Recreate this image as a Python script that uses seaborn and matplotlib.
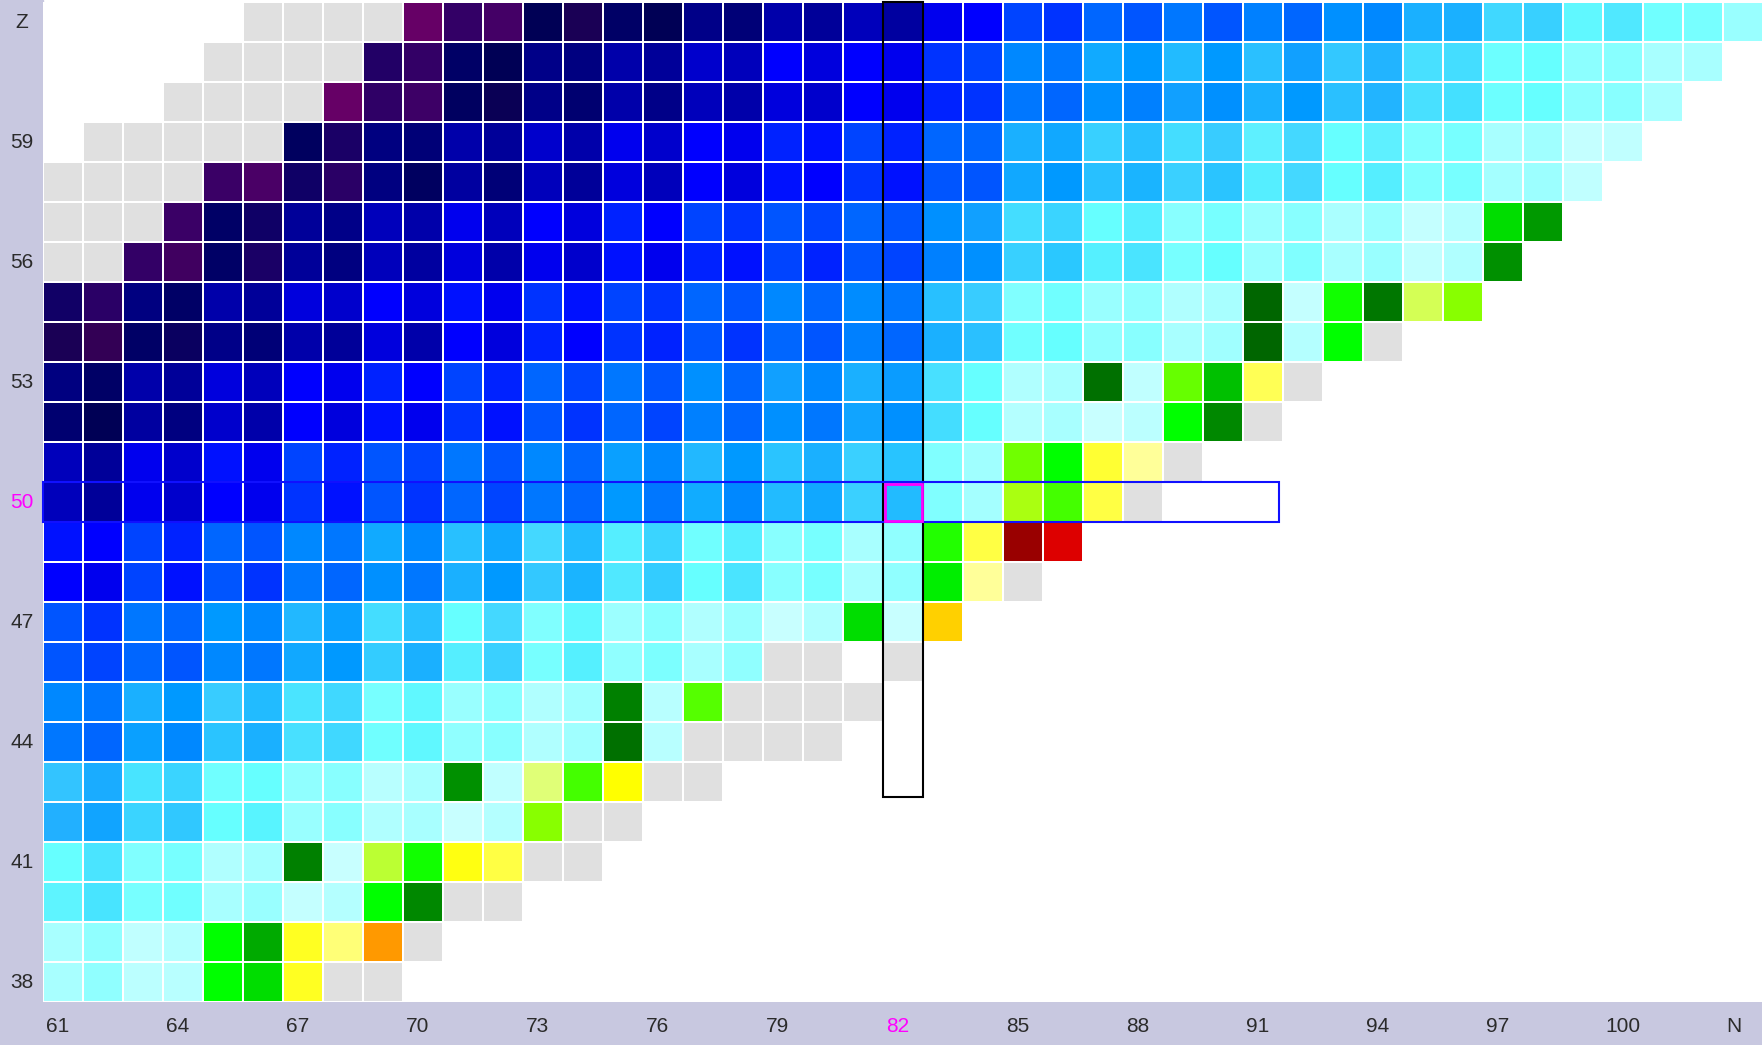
import numpy as np
import pandas as pd
import matplotlib
matplotlib.use("Agg")
import matplotlib.pyplot as plt
import seaborn as sns
from matplotlib.colors import ListedColormap
from matplotlib.patches import Rectangle

n_values = list(range(61, 104))      # columns, N = 61 .. 103
z_values = list(range(62, 37, -1))   # rows, Z = 62 (top) .. 38 (bottom)

# colour of every cell, one string per row (Z = 62 first)
# '.' = no nuclide, 'g' = grey (not measured)
cell_rows = [
    ". . . . . g g g g 660066 330066 440066 000055 1a0055 000066 000055 000088 000077 0000aa 000099 0000bb 0000a0 0000ee 0000ff 0044ff 0033ff 0066ff 0055ff 0077ff 0055ff 0080ff 0066ff 0090ff 0088ff 1ab0ff 1ab0ff 40d8ff 38d0ff 60f8ff 50e8ff 70ffff 77ffff 99ffff",
    ". . . . g g g g 220066 330066 000066 000055 000088 000080 0000aa 000099 0000cc 0000bb 0000ff 0000dd 0000ff 0000ee 0033ff 0044ff 0088ff 0077ff 11aaff 0099ff 22bbff 0099ff 2ac0ff 11a0ff 33c8ff 22b4ff 48e0ff 44ddff 6cffff 66ffff 8cffff 88ffff a8ffff a8ffff",
    ". . . g g g g 660066 2f0066 3d0066 000060 0a0055 000088 000070 0000aa 000088 0000bb 0000aa 0000dd 0000cc 0000ff 0000ee 0022ff 0033ff 0077ff 0066ff 0090ff 0080ff 11a0ff 0090ff 1ab0ff 0099ff 2ac0ff 22b4ff 48e0ff 44e0ff 6cffff 66ffff 8cffff 88ffff a8ffff",
    ". g g g g g 00005f 1a0066 000080 000077 0000aa 000099 0000cc 0000aa 0000ee 0000cc 0000ff 0000ee 0022ff 0011ff 0044ff 0022ff 0066ff 0066ff 1ab0ff 11a8ff 38d0ff 28c0ff 44ddff 38ccff 5ef0ff 44d8ff 66ffff 5ef0ff 80ffff 77ffff a8ffff a0ffff c4ffff c0ffff",
    "g g g g 3a0066 4a0066 0f0066 2a0066 000080 000060 0000a0 000077 0000bb 000099 0000dd 0000bb 0000ff 0000dd 0011ff 0000ff 0033ff 0011ff 0055ff 0055ff 11a8ff 0099ff 28c0ff 1ab4ff 3ad0ff 2ac4ff 55eeff 44d8ff 66ffff 55eeff 80ffff 77ffff a4ffff 9cffff c0ffff",
    "g g g 3a0066 000066 0f0066 000099 000088 0000bb 0000aa 0000ee 0000bb 0000ff 0000dd 0022ff 0000ff 0044ff 0033ff 0055ff 0044ff 0066ff 0055ff 0090ff 11a0ff 44ddff 3ad4ff 66ffff 55eeff 88ffff 77ffff 99ffff 88ffff aaffff 99ffff c4ffff b4ffff 00dd00 009900",
    "g g 330066 400060 000066 1a0066 000099 000080 0000bb 0000a0 0000dd 0000aa 0000ee 0000cc 0011ff 0000ee 0022ff 0011ff 0044ff 0022ff 0055ff 0044ff 0080ff 0090ff 38d0ff 2ac8ff 55f0ff 4ae4ff 77ffff 66ffff 99ffff 80ffff a8ffff 99ffff c0ffff b0ffff 009000",
    "110066 2a0066 000080 000066 0000aa 000099 0000dd 0000cc 0000ff 0000dd 0011ff 0000ee 0033ff 0011ff 0044ff 0033ff 0066ff 0055ff 0088ff 0066ff 008cff 0077ff 28c0ff 38ccff 80ffff 70ffff 99ffff 90ffff b0ffff a8ffff 006600 c4ffff 11ff00 007700 d4ff55 88ff00",
    "1a0055 330055 000066 0a0060 000088 000077 0000aa 000099 0000dd 0000aa 0000ff 0000dd 0022ff 0000ff 0033ff 0022ff 0055ff 0033ff 0066ff 0055ff 0080ff 0066ff 1ab0ff 2ac0ff 70ffff 66ffff 90ffff 88ffff a8ffff a0ffff 006600 b4ffff 00ff00 g",
    "000080 000066 0000aa 000099 0000dd 0000bb 0000ff 0000ee 0022ff 0000ff 0044ff 0022ff 0066ff 0044ff 0077ff 0055ff 0090ff 0066ff 11a0ff 0088ff 1ab0ff 0a9cff 48e0ff 66ffff b0ffff a8ffff 007000 c0ffff 66ff00 00c000 ffff55 g",
    "000070 000055 0000a0 000080 0000cc 0000aa 0000ff 0000dd 0011ff 0000ee 0033ff 0011ff 0055ff 0033ff 0066ff 0044ff 0080ff 0066ff 0090ff 0077ff 11a4ff 0090ff 44ddff 66ffff b4ffff a8ffff c8ffff bbffff 00ff00 008800 g",
    "0000bb 000099 0000ee 0000cc 0011ff 0000ee 0044ff 0022ff 0055ff 0044ff 0077ff 0055ff 0088ff 0066ff 0aa0ff 0088ff 22b8ff 0099ff 2ac4ff 1ab0ff 3ad0ff 28c4ff 80ffff a0ffff 70ff00 00ff00 ffff33 ffff99 g",
    "0000bb 000099 0000ee 0000cc 0000ff 0000ee 0033ff 0011ff 0055ff 0033ff 0066ff 0044ff 0077ff 0066ff 0099ff 0077ff 11acff 0088ff 22bbff 11a8ff 3ad0ff 22bbff 80ffff a4ffff aaff11 44ff00 ffff44 g",
    "0011ff 0000ff 0044ff 0022ff 0066ff 0055ff 0088ff 0077ff 11aaff 0088ff 28c0ff 11a8ff 44d8ff 22bbff 55eeff 3ad4ff 70ffff 55eeff 88ffff 77ffff a8ffff 90ffff 22ff00 ffff44 990000 dd0000",
    "0000ff 0000ee 0044ff 0011ff 0055ff 0033ff 0077ff 0066ff 0090ff 0077ff 1ab0ff 0099ff 33c8ff 1ab4ff 50e8ff 33ccff 66ffff 4ae4ff 88ffff 77ffff a8ffff 90ffff 00ee00 ffff99 g",
    "0055ff 0033ff 0077ff 0066ff 0099ff 0088ff 22b8ff 0aa0ff 44ddff 28c0ff 66ffff 44d8ff 80ffff 60f8ff 9cffff 88ffff b0ffff 99ffff c8ffff b0ffff 00dd00 c8ffff ffd000",
    "0055ff 0044ff 0066ff 0055ff 0088ff 0077ff 11a8ff 0099ff 33ccff 1ab0ff 55eeff 3ad0ff 77ffff 55f0ff 90ffff 7cffff a8ffff 90ffff g g . g",
    "0088ff 0077ff 1ab0ff 0099ff 38ccff 22bbff 4ae4ff 40d8ff 77ffff 60f8ff 99ffff 88ffff b0ffff a0ffff 008000 b8ffff 55ff00 g g g g",
    "0077ff 0066ff 0aa0ff 0088ff 2ac4ff 1ab0ff 48e0ff 40d8ff 70ffff 60f8ff 90ffff 88ffff b0ffff a0ffff 007000 b8ffff g g g g",
    "33c4ff 1aacff 48e4ff 3ad4ff 70ffff 66ffff 90ffff 88ffff b8ffff a8ffff 009000 c0ffff e0ff77 44ff00 ffff00 g g",
    "22b0ff 11a4ff 3ad4ff 30c8ff 66ffff 58f4ff 99ffff 88ffff b0ffff a8ffff c8ffff b4ffff 88ff00 g g",
    "66ffff 4ae4ff 80ffff 77ffff b0ffff a4ffff 008000 c8ffff bbff33 11ff00 ffff11 ffff44 g g",
    "5ef4ff 48e4ff 77ffff 70ffff a8ffff 99ffff c4ffff b4ffff 00ff00 008800 g g",
    "a8ffff 90ffff c0ffff b4ffff 00ff00 00aa00 ffff22 ffff77 ff9900 g",
    "a8ffff 90ffff bbffff b8ffff 00ff00 00dd00 ffff22 g g",
]

x_ticks = [0, 3, 6, 9, 12, 15, 18, 21, 24, 27, 30, 33, 36, 39, 42]
x_labels = [str(n_values[c]) for c in x_ticks[:-1]] + ["N"]
y_ticks = [0, 3, 6, 9, 12, 15, 18, 21, 24]
y_labels = ["Z"] + [str(z_values[r]) for r in y_ticks[1:]]

sel_n = 82
sel_z = 50

# turn colours into codes for the heatmap
palette = ["#e0e0e0"]
codes = np.full((len(z_values), len(n_values)), np.nan)
for i, row in enumerate(cell_rows):
    for j, tok in enumerate(row.split()):
        if tok == ".":
            continue
        col = "#e0e0e0" if tok == "g" else "#" + tok
        if col not in palette:
            palette.append(col)
        codes[i, j] = palette.index(col)
df = pd.DataFrame(codes, index=z_values, columns=n_values)

sns.set_theme(style="white")
plt.rcParams["font.family"] = ["Liberation Sans", "DejaVu Sans"]

W, H = 1762, 1045
panel = "#c8c8e0"
fig = plt.figure(figsize=(W / 100, H / 100), dpi=100)
fig.patch.set_facecolor("white")
fig.add_artist(Rectangle((0, 0), 43 / W, 1, transform=fig.transFigure, color=panel, zorder=0))
fig.add_artist(Rectangle((0, 0), 1, 43 / H, transform=fig.transFigure, color=panel, zorder=0))

ax = fig.add_axes([43 / W, 43 / H, 1720 / W, 1000 / H])
sns.heatmap(df, ax=ax, cmap=ListedColormap(palette), vmin=-0.5, vmax=len(palette) - 0.5,
            cbar=False, linewidths=1.1, linecolor="white")
for s in ax.spines.values():
    s.set_visible(False)

ax.set_xticks([c + 0.07 for c in x_ticks])
ax.set_xticklabels(x_labels, rotation=0, ha="left")
ax.set_yticks([r + 0.5 for r in y_ticks])
ax.set_yticklabels(y_labels, rotation=0, ha="center")
ax.tick_params(axis="x", length=0, pad=11, labelsize=15, labelcolor="#2b2b2b")
ax.tick_params(axis="y", length=0, pad=15, labelsize=15, labelcolor="#2b2b2b")
ax.set_xlabel("")
ax.set_ylabel("")
for lab in ax.get_xticklabels():
    if lab.get_text() == str(sel_n):
        lab.set_color("#ff00ff")
for lab in ax.get_yticklabels():
    if lab.get_text() == str(sel_z):
        lab.set_color("#ff00ff")

ci = n_values.index(sel_n)
ri = z_values.index(sel_z)
ax.add_patch(Rectangle((ci, 0), 1, 19.88, fill=False, edgecolor="black", lw=1.5, clip_on=False, zorder=5))
ax.add_patch(Rectangle((0, ri), 30.9, 1, fill=False, edgecolor="#1010ff", lw=1.5, clip_on=False, zorder=5))
ax.add_patch(Rectangle((ci + 0.05, ri + 0.04), 0.92, 0.93, fill=False, edgecolor="#ff00ff", lw=2, zorder=6))

fig.savefig("out.png", dpi=100)
